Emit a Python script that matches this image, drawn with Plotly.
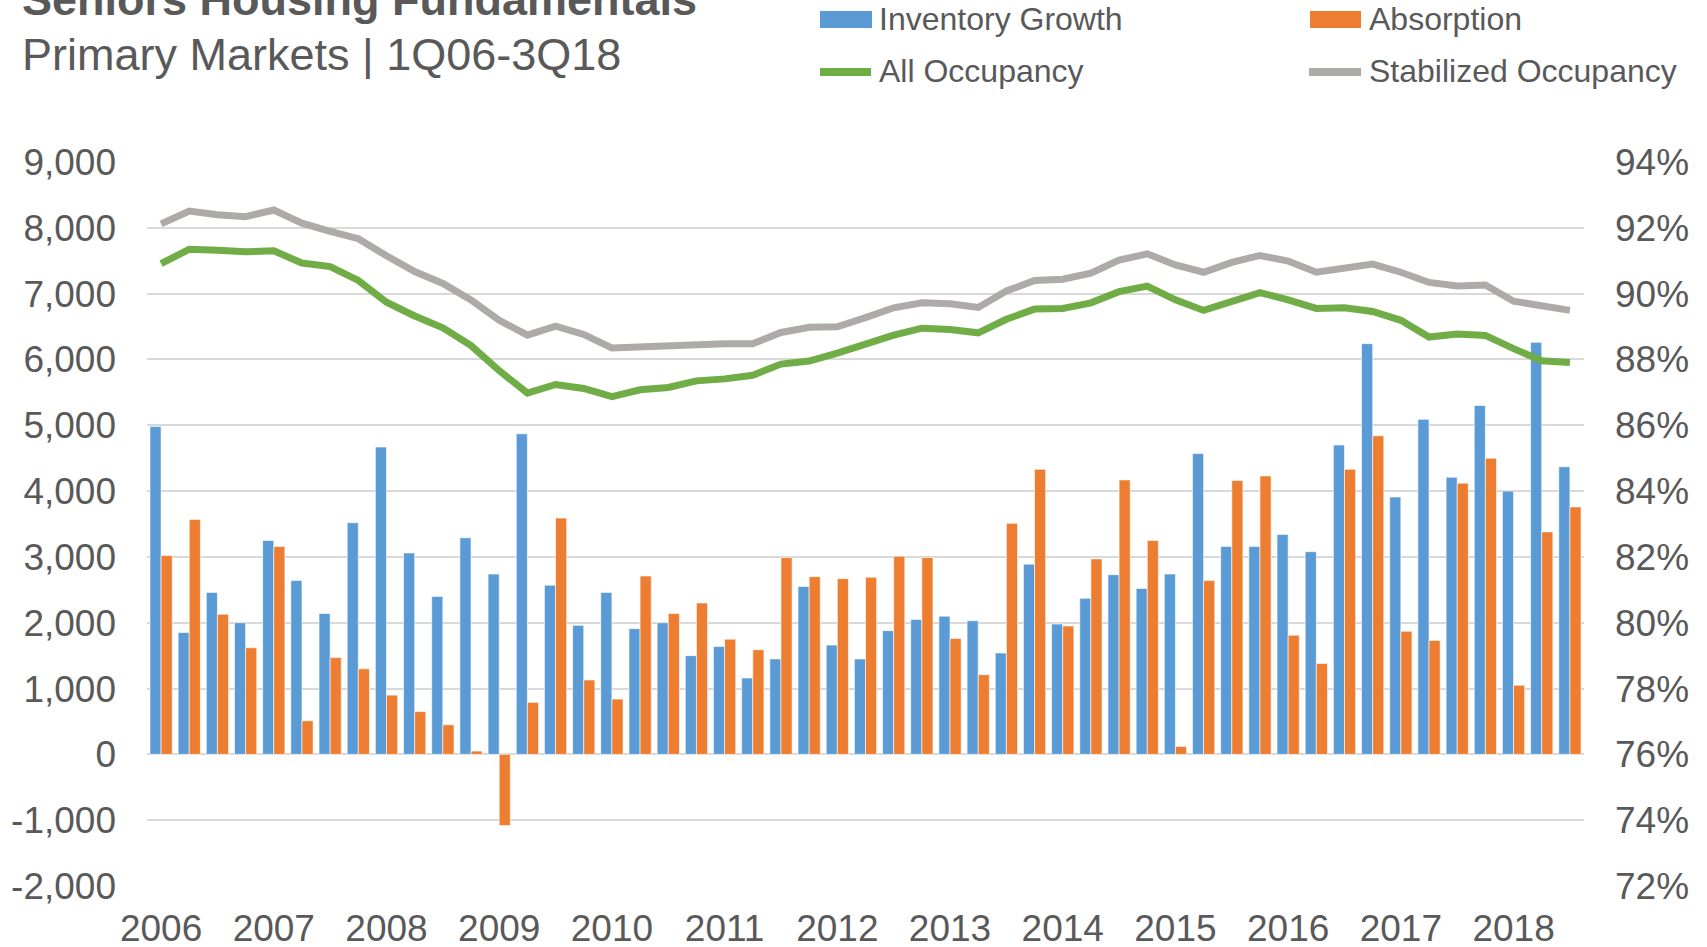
import plotly.graph_objects as go

quarters = [f"{q}Q{y:02d}" for y in range(6, 19) for q in range(1, 5)][:51]
years = ["2006", "2007", "2008", "2009", "2010", "2011", "2012",
         "2013", "2014", "2015", "2016", "2017", "2018"]

inventory_growth = [4980, 1850, 2460, 2000, 3250, 2640, 2140, 3520, 4670, 3060, 2400, 3290,
                    2740, 4870, 2570, 1960, 2460, 1910, 2000, 1500, 1640, 1160, 1450, 2550,
                    1660, 1450, 1880, 2050, 2100, 2030, 1540, 2890, 1980, 2370, 2730, 2520,
                    2740, 4570, 3160, 3160, 3340, 3080, 4700, 6240, 3910, 5090, 4210, 5300,
                    4000, 6260, 4370]
absorption = [3020, 3570, 2130, 1620, 3160, 510, 1470, 1300, 900, 650, 450, 50,
              -1080, 790, 3590, 1130, 840, 2710, 2140, 2300, 1750, 1590, 2990, 2700,
              2670, 2690, 3010, 2990, 1760, 1210, 3510, 4330, 1950, 2970, 4170, 3250,
              120, 2640, 4160, 4230, 1810, 1380, 4330, 4840, 1870, 1730, 4120, 4500,
              1050, 3380, 3760]
all_occupancy = [90.91, 91.35, 91.32, 91.27, 91.30, 90.93, 90.82, 90.40, 89.74, 89.32, 88.96, 88.42,
                 87.66, 86.98, 87.24, 87.12, 86.87, 87.08, 87.15, 87.35, 87.41, 87.52, 87.86, 87.95,
                 88.19, 88.48, 88.74, 88.95, 88.91, 88.81, 89.22, 89.53, 89.55, 89.72, 90.06, 90.23,
                 89.81, 89.49, 89.75, 90.03, 89.81, 89.55, 89.57, 89.46, 89.19, 88.68, 88.77, 88.73,
                 88.33, 87.96, 87.91]
stabilized_occupancy = [92.12, 92.51, 92.40, 92.34, 92.54, 92.14, 91.89, 91.67, 91.15, 90.67, 90.31, 89.81,
                        89.19, 88.74, 89.01, 88.76, 88.35, 88.39, 88.43, 88.45, 88.48, 88.48, 88.82, 88.98,
                        88.99, 89.27, 89.57, 89.72, 89.69, 89.58, 90.08, 90.40, 90.44, 90.62, 91.02, 91.21,
                        90.87, 90.65, 90.95, 91.16, 90.99, 90.65, 90.78, 90.90, 90.65, 90.34, 90.23, 90.26,
                        89.77, 89.65, 89.49]

left_tickvals = [-2000, -1000, 0, 1000, 2000, 3000, 4000, 5000, 6000, 7000, 8000, 9000]
left_ticktext = ["-2,000", "-1,000", "0", "1,000", "2,000", "3,000", "4,000",
                 "5,000", "6,000", "7,000", "8,000", "9,000"]
right_tickvals = [72, 74, 76, 78, 80, 82, 84, 86, 88, 90, 92, 94]
right_ticktext = [f"{v}%" for v in right_tickvals]

series_names = ["Inventory Growth", "Absorption", "All Occupancy", "Stabilized Occupancy"]
colors = ["#5B9BD5", "#ED7D31", "#70AD47", "#AEAAAA"]

title_text = "Seniors Housing Fundamentals"
subtitle_text = "Primary Markets | 1Q06-3Q18"

FONT = "Liberation Sans, Arial, sans-serif"
TXT = "#595959"
W, H = 1707, 947
L, R, T, B = 147, 1584, 162, 886

fig = go.Figure()
fig.add_trace(go.Bar(x=quarters, y=inventory_growth, name=series_names[0],
                     marker=dict(color=colors[0], line=dict(color="white", width=0.6))))
fig.add_trace(go.Bar(x=quarters, y=absorption, name=series_names[1],
                     marker=dict(color=colors[1], line=dict(color="white", width=0.6))))
fig.add_trace(go.Scatter(x=quarters, y=all_occupancy, name=series_names[2], yaxis="y2",
                         mode="lines", line=dict(color=colors[2], width=7)))
fig.add_trace(go.Scatter(x=quarters, y=stabilized_occupancy, name=series_names[3], yaxis="y2",
                         mode="lines", line=dict(color=colors[3], width=7)))

def px_x(p):
    return (p - L) / (R - L)

def px_y(p):
    return (B - p) / (B - T)

shapes = []
annotations = []
# legend (manual, Excel style)
shapes.append(dict(type="rect", xref="paper", yref="paper", x0=px_x(820), x1=px_x(872),
                   y0=px_y(28), y1=px_y(11), fillcolor=colors[0], line=dict(width=0)))
shapes.append(dict(type="rect", xref="paper", yref="paper", x0=px_x(1310), x1=px_x(1361),
                   y0=px_y(28), y1=px_y(11), fillcolor=colors[1], line=dict(width=0)))
shapes.append(dict(type="line", xref="paper", yref="paper", x0=px_x(820), x1=px_x(871),
                   y0=px_y(72), y1=px_y(72), line=dict(color=colors[2], width=8)))
shapes.append(dict(type="line", xref="paper", yref="paper", x0=px_x(1309), x1=px_x(1361),
                   y0=px_y(72), y1=px_y(72), line=dict(color=colors[3], width=8)))
for name, x, y in [(series_names[0], 877, 19), (series_names[1], 1367, 19),
                   (series_names[2], 877, 71), (series_names[3], 1367, 71)]:
    annotations.append(dict(text=name, xref="paper", yref="paper", x=px_x(x), y=px_y(y),
                            xanchor="left", yanchor="middle", showarrow=False,
                            font=dict(family=FONT, size=32, color=TXT)))
annotations.append(dict(text=f"<b>{title_text}</b>", xref="paper", yref="paper",
                        x=px_x(20), y=px_y(-1), xanchor="left", yanchor="middle", showarrow=False,
                        font=dict(family=FONT, size=45, color=TXT)))
annotations.append(dict(text=subtitle_text, xref="paper", yref="paper",
                        x=px_x(20), y=px_y(54), xanchor="left", yanchor="middle", showarrow=False,
                        font=dict(family=FONT, size=45, color=TXT)))

fig.update_layout(
    width=W, height=H,
    margin=dict(l=L, r=W - R, t=T, b=H - B, pad=0, autoexpand=False),
    paper_bgcolor="white", plot_bgcolor="white",
    barmode="group", bargap=0.21, bargroupgap=0,
    showlegend=False,
    font=dict(family=FONT, size=37, color=TXT),
    shapes=shapes, annotations=annotations,
    xaxis=dict(type="category", tickmode="array",
               tickvals=[quarters[i * 4] for i in range(len(years))], ticktext=years,
               showgrid=False, showline=False, zeroline=False, ticks="", automargin=False,
               tickfont=dict(size=37, color=TXT), ticklabelstandoff=17,
               range=[-0.5, len(quarters) - 0.5]),
    yaxis=dict(range=[-2000, 9000], tickmode="array", tickvals=left_tickvals, ticktext=left_ticktext,
               showgrid=True, gridcolor="#D9D9D9", gridwidth=1.5, automargin=False,
               zeroline=True, zerolinecolor="#D9D9D9", zerolinewidth=2,
               showline=False, ticks="", tickfont=dict(size=37, color=TXT), ticklabelstandoff=30),
    yaxis2=dict(range=[72, 94], overlaying="y", side="right", tickmode="array",
                tickvals=right_tickvals, ticktext=right_ticktext, showgrid=False, automargin=False,
                zeroline=False, showline=False, ticks="", tickfont=dict(size=37, color=TXT),
                ticklabelstandoff=30),
)

fig.write_html("out.html")
